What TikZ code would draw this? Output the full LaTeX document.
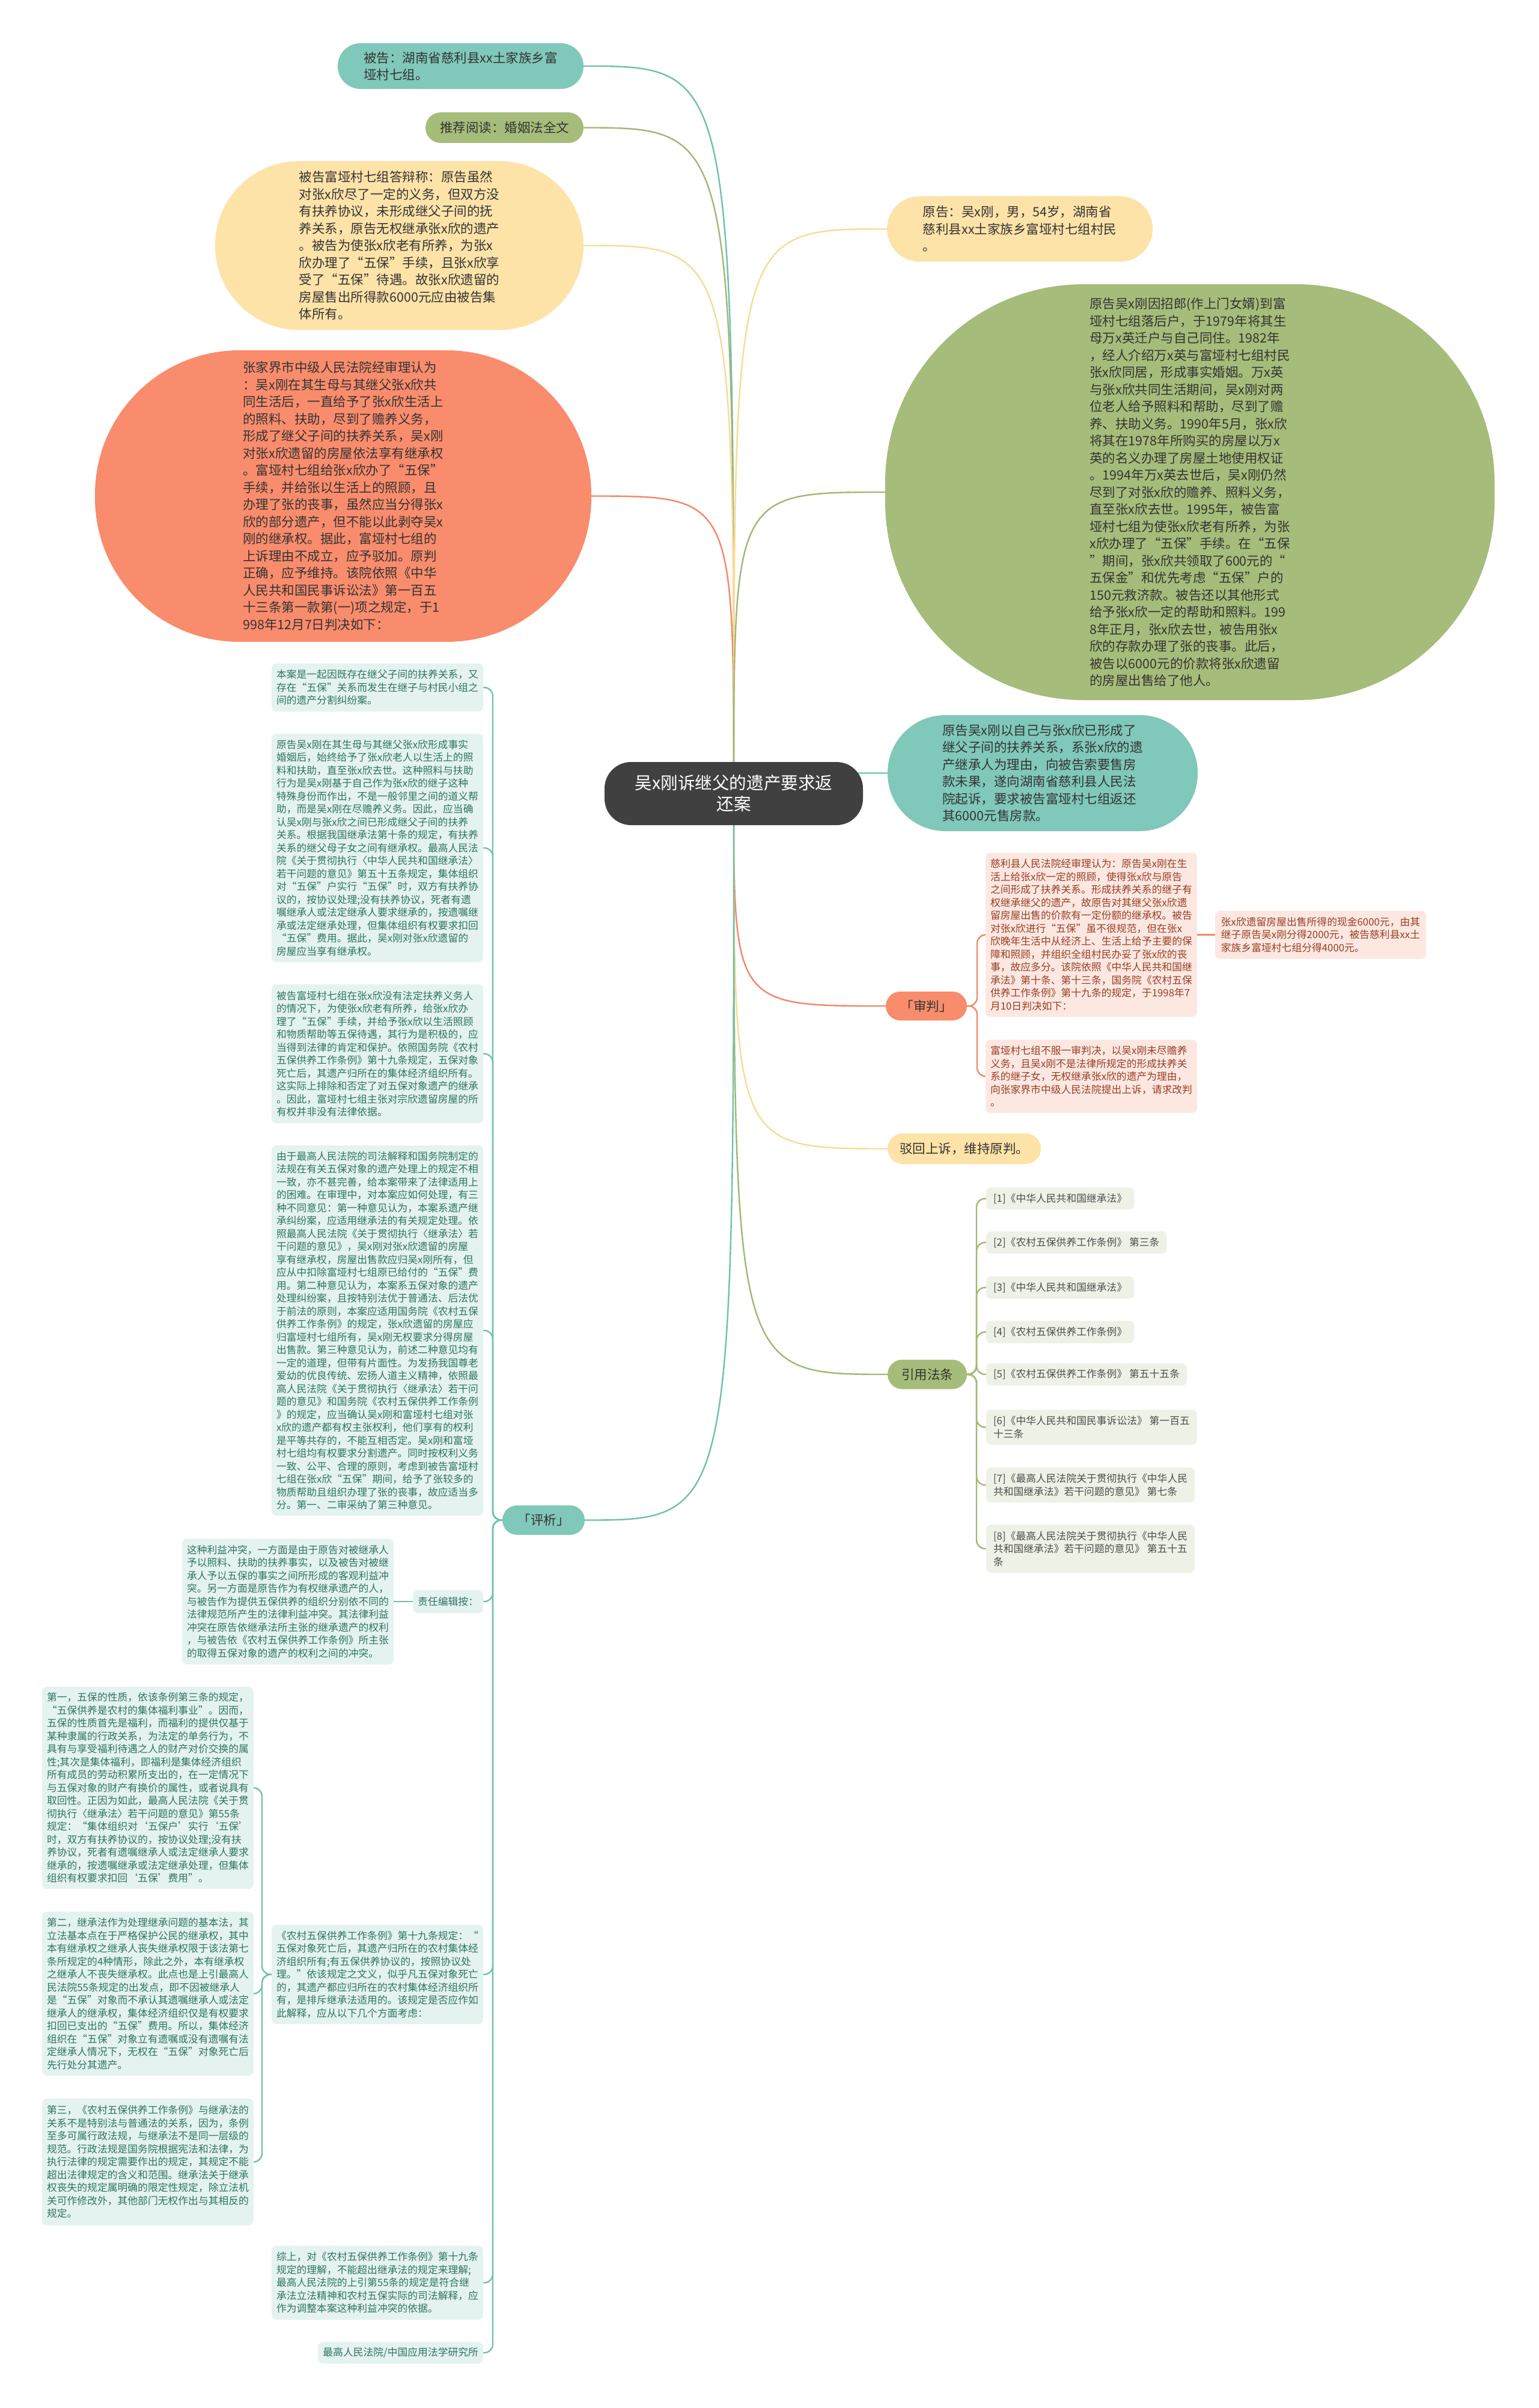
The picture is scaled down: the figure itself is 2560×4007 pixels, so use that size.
\documentclass[tikz,border=0pt]{standalone}
\usepackage{fontspec}
\setmainfont{Noto Sans CJK SC}
\usetikzlibrary{backgrounds,calc}
\definecolor{cteal}{RGB}{128,200,185}
\definecolor{cgreen}{RGB}{166,188,122}
\definecolor{cyellow}{RGB}{254,227,168}
\definecolor{csalmon}{RGB}{249,140,108}
\definecolor{croot}{RGB}{64,64,64}
\definecolor{ctext}{RGB}{51,51,51}
\definecolor{pxfill}{RGB}{228,243,239}
\definecolor{pxtext}{RGB}{47,115,98}
\definecolor{spfill}{RGB}{253,232,225}
\definecolor{sptext}{RGB}{150,62,38}
\definecolor{yyfill}{RGB}{238,241,230}
\definecolor{yytext}{RGB}{77,77,77}
\definecolor{ltteal}{RGB}{112,192,174}
\definecolor{ltgreen}{RGB}{160,184,115}
\definecolor{ltyellow}{RGB}{250,218,150}
\definecolor{ltsalmon}{RGB}{242,135,105}
\begin{document}
\begin{tikzpicture}[x=0.5pt,y=-0.5pt,
  every node/.style={inner sep=0pt, outer sep=0pt},
  l1/.style={align=left, font=\fontsize{10.75pt}{14.25pt}\selectfont, text=ctext},
  l2/.style={align=left, font=\fontsize{8.4pt}{10.75pt}\selectfont, inner xsep=4pt, inner ysep=4pt, rounded corners=4pt},
  pxbox/.style={l2, fill=pxfill, text=pxtext, minimum width=175pt, anchor=east},
  spbox/.style={l2, fill=spfill, text=sptext, minimum width=174pt},
  yybox/.style={l2, fill=yyfill, text=yytext, inner xsep=6pt, anchor=west},
  conn/.style={line width=1.2pt, line cap=round},
]
\useasboundingbox (0,0) rectangle (2560,4007);

% ---------- root ----------
\node[font=\fontsize{14.3pt}{17.5pt}\selectfont, text=white, align=center, fill=croot,
  rounded corners=22pt, minimum width=215pt, minimum height=52.5pt] (root) at (1221,1320.5)
  {吴x刚诉继父的遗产要求返\\还案};

% ---------- upper left ----------
\node[l1, fill=cteal, rounded corners=18.9pt, minimum width=204.5pt, minimum height=38pt] (beigao) at (766.5,110)
  {被告：湖南省慈利县xx土家族乡富\\垭村七组。};
\node[l1, fill=cgreen, rounded corners=12.7pt, minimum width=131.5pt, minimum height=25.5pt] (tuijian) at (839.5,212.5)
  {推荐阅读：婚姻法全文};
\node[l1, fill=cyellow, rounded corners=70pt, minimum width=306.5pt, minimum height=140.5pt] (dabian) at (664.5,408.5)
  {被告富垭村七组答辩称：原告虽然\\
   对张x欣尽了一定的义务，但双方没\\
   有扶养协议，未形成继父子间的抚\\
   养关系，原告无权继承张x欣的遗产\\
   。被告为使张x欣老有所养，为张x\\
   欣办理了“五保”手续，且张x欣享\\
   受了“五保”待遇。故张x欣遗留的\\
   房屋售出所得款6000元应由被告集\\
   体所有。};
\node[l1, fill=csalmon, rounded corners=120pt, minimum width=413pt, minimum height=242.5pt] (zhongyuan) at (571,825.5)
  {张家界市中级人民法院经审理认为\\
   ：吴x刚在其生母与其继父张x欣共\\
   同生活后，一直给予了张x欣生活上\\
   的照料、扶助，尽到了赡养义务，\\
   形成了继父子间的扶养关系，吴x刚\\
   对张x欣遗留的房屋依法享有继承权\\
   。富垭村七组给张x欣办了“五保”\\
   手续，并给张以生活上的照顾，且\\
   办理了张的丧事，虽然应当分得张x\\
   欣的部分遗产，但不能以此剥夺吴x\\
   刚的继承权。据此，富垭村七组的\\
   上诉理由不成立，应予驳加。原判\\
   正确，应予维持。该院依照《中华\\
   人民共和国民事诉讼法》第一百五\\
   十三条第一款第(一)项之规定，于1\\
   998年12月7日判决如下：};

% ---------- upper right ----------
\node[l1, fill=cyellow, rounded corners=27pt, minimum width=221pt, minimum height=54.5pt] (yuangao) at (1697,381)
  {原告：吴x刚，男，54岁，湖南省\\
   慈利县xx土家族乡富垭村七组村民\\
   。};
\node[l1, fill=cgreen, rounded corners=165pt, minimum width=507pt, minimum height=346pt] (shishi) at (1980,819)
  {原告吴x刚因招郎(作上门女婿)到富\\
   垭村七组落后户，于1979年将其生\\
   母万x英迁户与自己同住。1982年\\
   ，经人介绍万x英与富垭村七组村民\\
   张x欣同居，形成事实婚姻。万x英\\
   与张x欣共同生活期间，吴x刚对两\\
   位老人给予照料和帮助，尽到了赡\\
   养、扶助义务。1990年5月，张x欣\\
   将其在1978年所购买的房屋以万x\\
   英的名义办理了房屋土地使用权证\\
   。1994年万x英去世后，吴x刚仍然\\
   尽到了对张x欣的赡养、照料义务，\\
   直至张x欣去世。1995年，被告富\\
   垭村七组为使张x欣老有所养，为张\\
   x欣办理了“五保”手续。在“五保\\
   ”期间，张x欣共领取了600元的“\\
   五保金”和优先考虑“五保”户的\\
   150元救济款。被告还以其他形式\\
   给予张x欣一定的帮助和照料。199\\
   8年正月，张x欣去世，被告用张x\\
   欣的存款办理了张的丧事。此后，\\
   被告以6000元的价款将张x欣遗留\\
   的房屋出售给了他人。};
\node[l1, fill=cteal, rounded corners=48pt, minimum width=258pt, minimum height=96.5pt] (suqiu) at (1735,1286.5)
  {原告吴x刚以自己与张x欣已形成了\\
   继父子间的扶养关系，系张x欣的遗\\
   产继承人为理由，向被告索要售房\\
   款未果，遂向湖南省慈利县人民法\\
   院起诉，要求被告富垭村七组返还\\
   其6000元售房款。};

% ---------- 审判 ----------
\node[l1, align=center, fill=csalmon, rounded corners=12pt, minimum width=67.5pt, minimum height=24pt] (shenpan) at (1541.5,1674)
  {「审判」};
\node[spbox, minimum height=136.5pt] (sp1) at (1816,1555.5)
  {慈利县人民法院经审理认为：原告吴x刚在生\\
   活上给张x欣一定的照顾，使得张x欣与原告\\
   之间形成了扶养关系。形成扶养关系的继子有\\
   权继承继父的遗产，故原告对其继父张x欣遗\\
   留房屋出售的价款有一定份额的继承权。被告\\
   对张x欣进行“五保”虽不很规范，但在张x\\
   欣晚年生活中从经济上、生活上给予主要的保\\
   障和照顾，并组织全组村民办妥了张x欣的丧\\
   事，故应多分。该院依照《中华人民共和国继\\
   承法》第十条、第十三条，国务院《农村五保\\
   供养工作条例》第十九条的规定，于1998年7\\
   月10日判决如下：};
\node[spbox, minimum height=61pt] (sp2) at (1816,1791)
  {富垭村七组不服一审判决，以吴x刚未尽赡养\\
   义务，且吴x刚不是法律所规定的形成扶养关\\
   系的继子女，无权继承张x欣的遗产为理由，\\
   向张家界市中级人民法院提出上诉，请求改判\\
   。};
\node[spbox, minimum width=175.5pt, minimum height=40pt] (sp3) at (2197.5,1555.5)
  {张x欣遗留房屋出售所得的现金6000元，由其\\
   继子原告吴x刚分得2000元，被告慈利县xx土\\
   家族乡富垭村七组分得4000元。};

\node[l1, align=center, fill=cyellow, rounded corners=12.7pt, minimum width=127.5pt, minimum height=25.5pt] (bohui) at (1604.5,1911.5)
  {驳回上诉，维持原判。};

% ---------- 引用法条 ----------
\node[l1, align=center, fill=cgreen, rounded corners=12.2pt, minimum width=66pt, minimum height=24.5pt] (yinyong) at (1543,2287)
  {引用法条};
\node[yybox, minimum height=18.5pt] (f1) at (1641,1994.5) {[1]《中华人民共和国继承法》};
\node[yybox, minimum height=18.5pt] (f2) at (1641,2067.5) {[2]《农村五保供养工作条例》 第三条};
\node[yybox, minimum height=18.5pt] (f3) at (1641,2142.5) {[3]《中华人民共和国继承法》};
\node[yybox, minimum height=18.5pt] (f4) at (1641,2216.5) {[4]《农村五保供养工作条例》};
\node[yybox, minimum height=18.5pt] (f5) at (1641,2287) {[5]《农村五保供养工作条例》 第五十五条};
\node[yybox, minimum height=29pt] (f6) at (1641,2375) {[6]《中华人民共和国民事诉讼法》 第一百五\\十三条};
\node[yybox, minimum height=29pt] (f7) at (1641,2471) {[7]《最高人民法院关于贯彻执行《中华人民\\共和国继承法》若干问题的意见》 第七条};
\node[yybox, minimum height=40pt] (f8) at (1641,2577) {[8]《最高人民法院关于贯彻执行《中华人民\\共和国继承法》若干问题的意见》 第五十五\\条};

% ---------- 评析 ----------
\node[l1, align=center, fill=cteal, rounded corners=12.2pt, minimum width=68.5pt, minimum height=24.5pt] (pingxi) at (904.5,2529.5)
  {「评析」};
\node[pxbox, minimum height=40pt] (pa) at (804,1144)
  {本案是一起因既存在继父子间的扶养关系，又\\
   存在“五保”关系而发生在继子与村民小组之\\
   间的遗产分割纠纷案。};
\node[pxbox, minimum height=190pt] (pb) at (804,1411)
  {原告吴x刚在其生母与其继父张x欣形成事实\\
   婚姻后，始终给予了张x欣老人以生活上的照\\
   料和扶助，直至张x欣去世。这种照料与扶助\\
   行为是吴x刚基于自己作为张x欣的继子这种\\
   特殊身份而作出，不是一般邻里之间的道义帮\\
   助，而是吴x刚在尽赡养义务。因此，应当确\\
   认吴x刚与张x欣之间已形成继父子间的扶养\\
   关系。根据我国继承法第十条的规定，有扶养\\
   关系的继父母子女之间有继承权。最高人民法\\
   院《关于贯彻执行〈中华人民共和国继承法〉\\
   若干问题的意见》第五十五条规定，集体组织\\
   对“五保”户实行“五保”时，双方有扶养协\\
   议的，按协议处理;没有扶养协议，死者有遗\\
   嘱继承人或法定继承人要求继承的，按遗嘱继\\
   承或法定继承处理，但集体组织有权要求扣回\\
   “五保”费用。据此，吴x刚对张x欣遗留的\\
   房屋应当享有继承权。};
\node[pxbox, minimum height=115.5pt] (pc) at (804,1753.5)
  {被告富垭村七组在张x欣没有法定扶养义务人\\
   的情况下，为使张x欣老有所养，给张x欣办\\
   理了“五保”手续，并给予张x欣以生活照顾\\
   和物质帮助等五保待遇，其行为是积极的，应\\
   当得到法律的肯定和保护。依照国务院《农村\\
   五保供养工作条例》第十九条规定，五保对象\\
   死亡后，其遗产归所在的集体经济组织所有。\\
   这实际上排除和否定了对五保对象遗产的继承\\
   。因此，富垭村七组主张对宗欣遗留房屋的所\\
   有权并非没有法律依据。};
\node[pxbox, minimum height=308pt] (pd) at (804,2214)
  {由于最高人民法院的司法解释和国务院制定的\\
   法规在有关五保对象的遗产处理上的规定不相\\
   一致，亦不甚完善，给本案带来了法律适用上\\
   的困难。在审理中，对本案应如何处理，有三\\
   种不同意见：第一种意见认为，本案系遗产继\\
   承纠纷案，应适用继承法的有关规定处理。依\\
   照最高人民法院《关于贯彻执行〈继承法〉若\\
   干问题的意见》，吴x刚对张x欣遗留的房屋\\
   享有继承权，房屋出售款应归吴x刚所有，但\\
   应从中扣除富垭村七组原已给付的“五保”费\\
   用。第二种意见认为，本案系五保对象的遗产\\
   处理纠纷案，且按特别法优于普通法、后法优\\
   于前法的原则，本案应适用国务院《农村五保\\
   供养工作条例》的规定，张x欣遗留的房屋应\\
   归富垭村七组所有，吴x刚无权要求分得房屋\\
   出售款。第三种意见认为，前述二种意见均有\\
   一定的道理，但带有片面性。为发扬我国尊老\\
   爱幼的优良传统、宏扬人道主义精神，依照最\\
   高人民法院《关于贯彻执行〈继承法〉若干问\\
   题的意见》和国务院《农村五保供养工作条例\\
   》的规定，应当确认吴x刚和富垭村七组对张\\
   x欣的遗产都有权主张权利，他们享有的权利\\
   是平等共存的，不能互相否定。吴x刚和富垭\\
   村七组均有权要求分割遗产。同时按权利义务\\
   一致、公平、合理的原则，考虑到被告富垭村\\
   七组在张x欣“五保”期间，给予了张较多的\\
   物质帮助且组织办理了张的丧事，故应适当多\\
   分。第一、二审采纳了第三种意见。};
\node[l2, fill=pxfill, text=pxtext, anchor=east, minimum height=19pt] (zeren) at (804,2665)
  {责任编辑按：};
\node[pxbox, minimum width=174.5pt, minimum height=104.5pt] (pe) at (655,2665)
  {这种利益冲突，一方面是由于原告对被继承人\\
   予以照料、扶助的扶养事实，以及被告对被继\\
   承人予以五保的事实之间所形成的客观利益冲\\
   突。另一方面是原告作为有权继承遗产的人，\\
   与被告作为提供五保供养的组织分别依不同的\\
   法律规范所产生的法律利益冲突。其法律利益\\
   冲突在原告依继承法所主张的继承遗产的权利\\
   ，与被告依《农村五保供养工作条例》所主张\\
   的取得五保对象的遗产的权利之间的冲突。};
\node[pxbox, minimum height=82.5pt] (pf) at (804,3285.5)
  {《农村五保供养工作条例》第十九条规定：“\\
   五保对象死亡后，其遗产归所在的农村集体经\\
   济组织所有;有五保供养协议的，按照协议处\\
   理。”依该规定之文义，似乎凡五保对象死亡\\
   的，其遗产都应归所在的农村集体经济组织所\\
   有，是排斥继承法适用的。该规定是否应作如\\
   此解释，应从以下几个方面考虑：};
\node[pxbox, minimum height=168pt] (d1) at (422,2975)
  {第一，五保的性质，依该条例第三条的规定，\\
   “五保供养是农村的集体福利事业”。因而，\\
   五保的性质首先是福利，而福利的提供仅基于\\
   某种隶属的行政关系，为法定的单务行为，不\\
   具有与享受福利待遇之人的财产对价交换的属\\
   性;其次是集体福利，即福利是集体经济组织\\
   所有成员的劳动积累所支出的，在一定情况下\\
   与五保对象的财产有换价的属性，或者说具有\\
   取回性。正因为如此，最高人民法院《关于贯\\
   彻执行〈继承法〉若干问题的意见》第55条\\
   规定：“集体组织对‘五保户’实行‘五保’\\
   时，双方有扶养协议的，按协议处理;没有扶\\
   养协议，死者有遗嘱继承人或法定继承人要求\\
   继承的，按遗嘱继承或法定继承处理，但集体\\
   组织有权要求扣回‘五保’费用”。};
\node[pxbox, minimum height=136.5pt] (d2) at (422,3317.5)
  {第二，继承法作为处理继承问题的基本法，其\\
   立法基本点在于严格保护公民的继承权，其中\\
   本有继承权之继承人丧失继承权限于该法第七\\
   条所规定的4种情形，除此之外，本有继承权\\
   之继承人不丧失继承权。此点也是上引最高人\\
   民法院55条规定的出发点，即不因被继承人\\
   是“五保”对象而不承认其遗嘱继承人或法定\\
   继承人的继承权，集体经济组织仅是有权要求\\
   扣回已支出的“五保”费用。所以，集体经济\\
   组织在“五保”对象立有遗嘱或没有遗嘱有法\\
   定继承人情况下，无权在“五保”对象死亡后\\
   先行处分其遗产。};
\node[pxbox, minimum height=105.5pt] (d3) at (422,3597.5)
  {第三，《农村五保供养工作条例》与继承法的\\
   关系不是特别法与普通法的关系，因为，条例\\
   至多可属行政法规，与继承法不是同一层级的\\
   规范。行政法规是国务院根据宪法和法律，为\\
   执行法律的规定需要作出的规定，其规定不能\\
   超出法律规定的含义和范围。继承法关于继承\\
   权丧失的规定属明确的限定性规定，除立法机\\
   关可作修改外，其他部门无权作出与其相反的\\
   规定。};
\node[pxbox, minimum height=61.5pt] (pg) at (804,3798.5)
  {综上，对《农村五保供养工作条例》第十九条\\
   规定的理解，不能超出继承法的规定来理解;\\
   最高人民法院的上引第55条的规定是符合继\\
   承法立法精神和农村五保实际的司法解释，应\\
   作为调整本案这种利益冲突的依据。};
\node[l2, fill=pxfill, text=pxtext, anchor=east, minimum height=18pt] (ph) at (804,3915)
  {最高人民法院/中国应用法学研究所};

% ---------- connectors ----------
\begin{pgfonlayer}{background}
\fill[white] (0,0) rectangle (2560,4007);
\foreach \t/\c/\a in {beigao/ltteal/east, tuijian/ltgreen/east, dabian/ltyellow/east,
    zhongyuan/ltsalmon/east, yuangao/ltyellow/west, shishi/ltgreen/west, suqiu/ltteal/west,
    shenpan/ltsalmon/west, bohui/ltyellow/west, yinyong/ltgreen/west, pingxi/ltteal/east}
  \draw[conn, \c] (root.center) .. controls (root.center |- \t.\a) .. (\t.\a);

\coordinate (spj) at ($(shenpan.east)+(17,0)$);
\foreach \t in {sp1,sp2}
  \draw[conn, ltsalmon, rounded corners=7pt] (shenpan.east) -- (spj) |- (\t.west);
\draw[conn, ltsalmon] (sp1.east) -- (sp3.west);

\coordinate (yyj) at ($(yinyong.east)+(16,0)$);
\foreach \i in {1,2,3,4,5,6,7,8}
  \draw[conn, ltgreen, rounded corners=7pt] (yinyong.east) -- (yyj) |- (f\i.west);

\coordinate (pxj) at ($(pingxi.west)+(-16,0)$);
\foreach \t in {pa,pb,pc,pd,zeren,pf,pg,ph}
  \draw[conn, ltteal, rounded corners=7pt] (pingxi.west) -- (pxj) |- (\t.east);
\draw[conn, ltteal] (zeren.west) -- (pe.east);

\coordinate (pfj) at ($(pf.west)+(-16,0)$);
\foreach \t in {d1,d2,d3}
  \draw[conn, ltteal, rounded corners=7pt] (pf.west) -- (pfj) |- (\t.east);
\end{pgfonlayer}
\end{tikzpicture}
\end{document}
